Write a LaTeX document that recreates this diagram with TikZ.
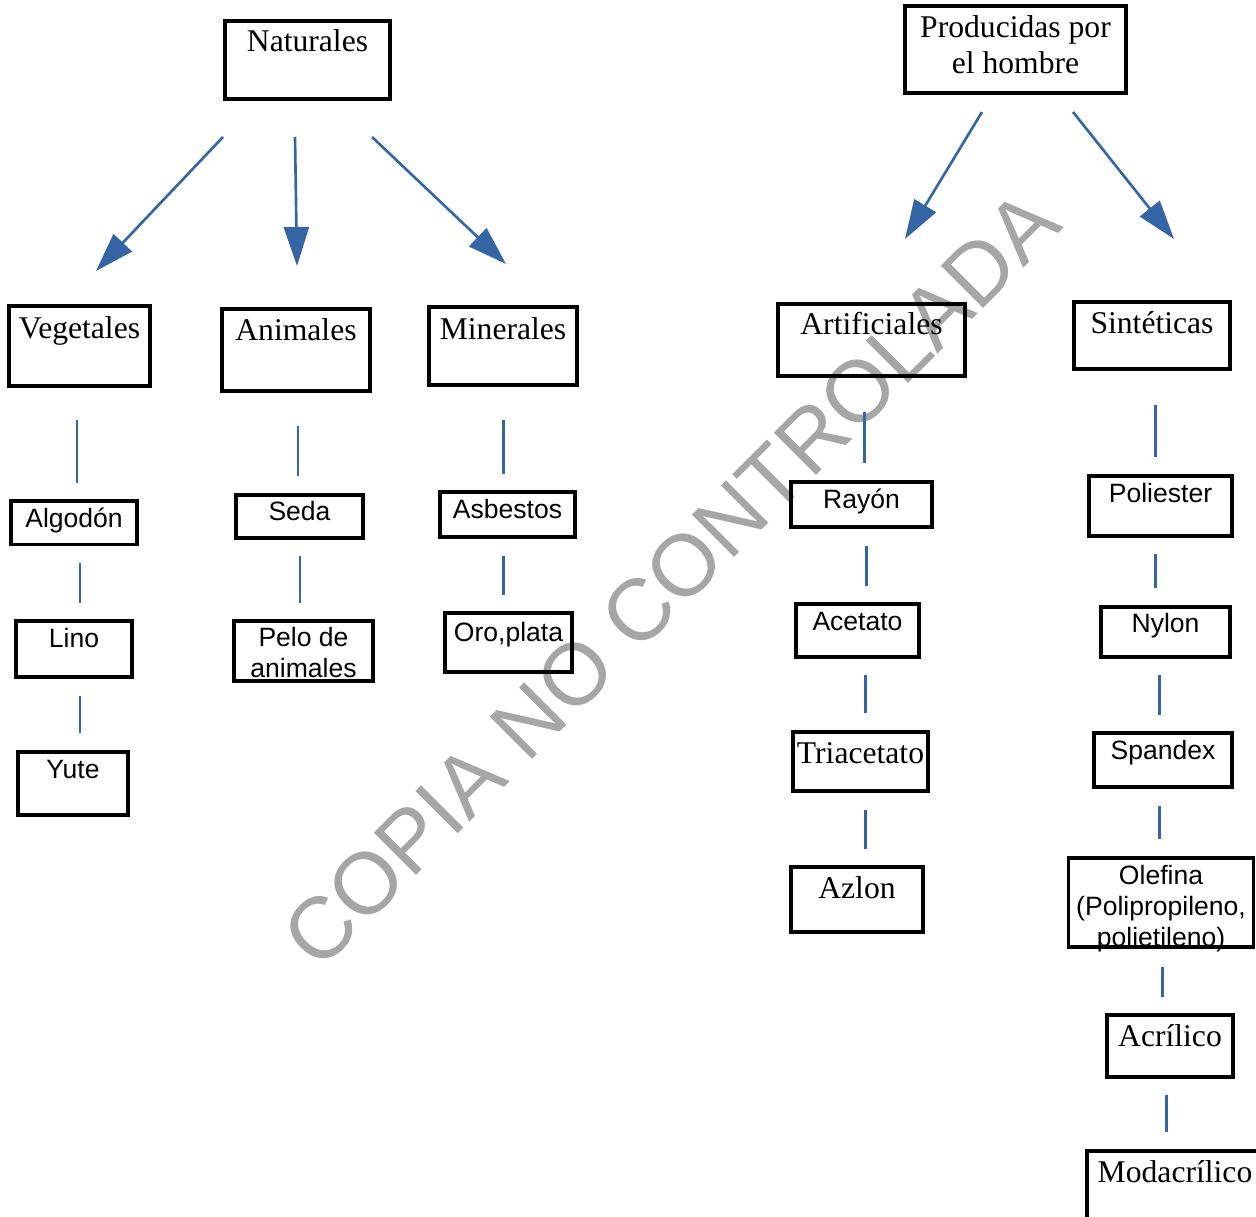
\documentclass[tikz,border=0pt]{standalone}
\usepackage{fontspec}
\setmainfont{Liberation Serif}
\setsansfont{Liberation Sans}
\usetikzlibrary{arrows.meta}
\definecolor{azul}{HTML}{3465A4}
\tikzset{
  caja/.style n args={3}{draw, line width=2pt, inner sep=0pt, anchor=base,
    minimum width=#1, text height=#2, text depth=#3},
  serif/.style={font=\fontsize{18}{20.5}\selectfont},
  sans/.style={font=\sffamily\fontsize{15.1}{17.6}\selectfont},
  flecha/.style={azul, line width=1.5pt, -{Triangle[length=0.78cm,width=0.5cm]}},
  enlace/.style={azul, line width=1.7pt},
  marca/.style={black!35, font=\sffamily\fontsize{49.5}{52}\selectfont, inner sep=0pt}
}

\begin{document}
\begin{tikzpicture}[x=0.02cm, y=-0.02cm]
\useasboundingbox (0,0) rectangle (1256,1216);

\node[marca, rotate=45, anchor=base] (marca) at (692,600) {COPIA NO CONTROLADA};

% primer nivel
\node[caja={3.3cm}{0.62cm}{0.94cm}, serif] (nat) at (307.5,52) {Naturales};
\node[caja={4.42cm}{1.36cm}{0.38cm}, serif, align=center] (prod) at (1015.5,74) {Producidas por\\el hombre};

% segundo nivel
\node[caja={2.82cm}{0.64cm}{0.96cm}, serif] (veg) at (79.5,338) {Vegetales};
\node[caja={2.96cm}{0.62cm}{1.02cm}, serif] (ani) at (296,340) {Animales};
\node[caja={2.96cm}{0.64cm}{0.92cm}, serif] (min) at (503,339) {Minerales};
\node[caja={3.74cm}{0.60cm}{0.84cm}, serif] (art) at (871.5,334) {Artificiales};
\node[caja={3.12cm}{0.62cm}{0.72cm}, serif] (sin) at (1152,333) {Sintéticas};

% fibras
\node[caja={2.52cm}{0.52cm}{0.35cm}, sans] (alg) at (74,527) {Algodón};
\node[caja={2.32cm}{0.52cm}{0.60cm}, sans] (lino) at (74,647) {Lino};
\node[caja={2.20cm}{0.52cm}{0.74cm}, sans] (yute) at (73,778) {Yute};
\node[caja={2.54cm}{0.50cm}{0.36cm}, sans] (seda) at (299.5,520) {Seda};
\node[caja={2.78cm}{1.12cm}{0.08cm}, sans, align=center] (pelo) at (303.5,677) {Pelo de\\animales};
\node[caja={2.70cm}{0.52cm}{0.38cm}, sans] (asb) at (507.5,518) {Asbestos};
\node[caja={2.54cm}{0.56cm}{0.62cm}, sans] (oro) at (508.5,641) {Oro,plata};
\node[caja={2.82cm}{0.52cm}{0.38cm}, sans] (ray) at (861.5,508) {Rayón};
\node[caja={2.46cm}{0.52cm}{0.54cm}, sans] (ace) at (857.5,630) {Acetato};
\node[caja={2.70cm}{0.62cm}{0.56cm}, serif] (tri) at (860.5,763) {Triacetato};
\node[caja={2.64cm}{0.62cm}{0.68cm}, serif] (azl) at (857,898) {Azlon};
\node[caja={2.86cm}{0.52cm}{0.68cm}, sans] (pol) at (1160.5,502) {Poliester};
\node[caja={2.58cm}{0.50cm}{0.50cm}, sans] (nyl) at (1165.5,632) {Nylon};
\node[caja={2.76cm}{0.52cm}{0.56cm}, sans] (spa) at (1163,759) {Spandex};
\node[caja={3.70cm}{1.76cm}{0.02cm}, sans, align=center] (ole) at (1161,946) {Olefina\\(Polipropileno,\\polietileno)};
\node[caja={2.52cm}{0.62cm}{0.62cm}, serif] (acr) at (1170,1046) {Acrílico};
\node[caja={3.52cm}{0.62cm}{1.2cm}, serif] (mod) at (1175,1182) {Modacrílico};

% flechas
\foreach \n/\xa/\ya/\xb/\yb in {f1/223/137/96/271, f2/295/137/297/266, f3/372/137/506/264,
    f4/982/112/905/239, f5/1073/112/1174/239}{
  \coordinate (\n a) at (\xa,\ya);
  \coordinate (\n b) at (\xb,\yb);
  \draw[flecha] (\n a) -- (\n b);
}

% enlaces
\foreach \n/\x/\ya/\yb in {va/77/420/483, vb/80/563/603, vc/80/696/733,
    vd/298/426/476, ve/300/556/603, vf/503/420/474, vg/503/556/595,
    vh/864/412/463, vi/866/546/586, vj/865/675/713, vk/865/810/849,
    vl/1155/405/457, vm/1155/554/588, vn/1159/675/715, vo/1159/806/839,
    vp/1162/967/997, vq/1166/1095/1132}{
  \coordinate (\n a) at (\x,\ya);
  \coordinate (\n b) at (\x,\yb);
  \draw[enlace] (\n a) -- (\n b);
}
\end{tikzpicture}
\end{document}
